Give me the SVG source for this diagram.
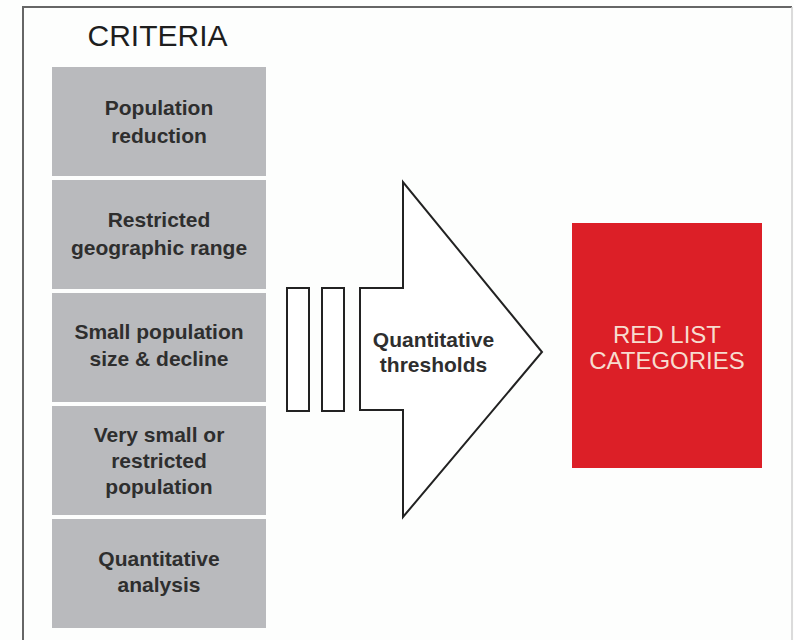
<svg xmlns="http://www.w3.org/2000/svg" width="794" height="640" viewBox="0 0 794 640">
  <style>
    .crit { fill: #b9babd; }
    .ctext { font-family: "Liberation Sans", Arial, sans-serif; font-size: 21px; font-weight: bold; fill: #2e2e2e; text-anchor: middle; }
    .outline { fill: #ffffff; stroke: #222222; stroke-width: 2; }
    .title { font-family: "Liberation Sans", Arial, sans-serif; font-size: 30px; fill: #1e1e1e; text-anchor: middle; }
    .rtext { font-family: "Liberation Sans", Arial, sans-serif; font-size: 24px; fill: #f7dccf; text-anchor: middle; }
  </style>
  <rect x="0" y="0" width="794" height="640" fill="#fdfefd"/>
  <g id="frame">
    <line x1="23" y1="7" x2="792" y2="7" stroke="#666" stroke-width="2"/>
    <line x1="23" y1="6" x2="23" y2="640" stroke="#666" stroke-width="2"/>
    <line x1="792" y1="7" x2="792" y2="640" stroke="#cfcfcf" stroke-width="1.5"/>
  </g>
  <g id="title">
    <text class="title" x="157.5" y="46">CRITERIA</text>
  </g>
  <g id="criterion-1">
    <rect class="crit" x="52" y="67" width="214" height="109"/>
    <text class="ctext" x="159" y="115">Population</text>
    <text class="ctext" x="159" y="143">reduction</text>
  </g>
  <g id="criterion-2">
    <rect class="crit" x="52" y="180" width="214" height="109"/>
    <text class="ctext" x="159" y="227">Restricted</text>
    <text class="ctext" x="159" y="255">geographic range</text>
  </g>
  <g id="criterion-3">
    <rect class="crit" x="52" y="293" width="214" height="109"/>
    <text class="ctext" x="159" y="339">Small population</text>
    <text class="ctext" x="159" y="366">size &amp; decline</text>
  </g>
  <g id="criterion-4">
    <rect class="crit" x="52" y="406" width="214" height="109"/>
    <text class="ctext" x="159" y="442">Very small or</text>
    <text class="ctext" x="159" y="468">restricted</text>
    <text class="ctext" x="159" y="494">population</text>
  </g>
  <g id="criterion-5">
    <rect class="crit" x="52" y="519" width="214" height="109"/>
    <text class="ctext" x="159" y="566">Quantitative</text>
    <text class="ctext" x="159" y="592">analysis</text>
  </g>
  <g id="connectors">
    <rect class="outline" x="287" y="288" width="22" height="123"/>
    <rect class="outline" x="322" y="288" width="22" height="123"/>
  </g>
  <g id="thresholds">
    <polygon class="outline" points="360,288 403,288 403,182 542,352 403,517 403,410 360,410"/>
    <text class="ctext" x="433.5" y="347" font-size="20">Quantitative</text>
    <text class="ctext" x="433.5" y="372" font-size="20">thresholds</text>
  </g>
  <g id="red-list">
    <rect x="572" y="223" width="190" height="245" fill="#dc1f27"/>
    <text class="rtext" x="667" y="343">RED LIST</text>
    <text class="rtext" x="667" y="369">CATEGORIES</text>
  </g>
</svg>
